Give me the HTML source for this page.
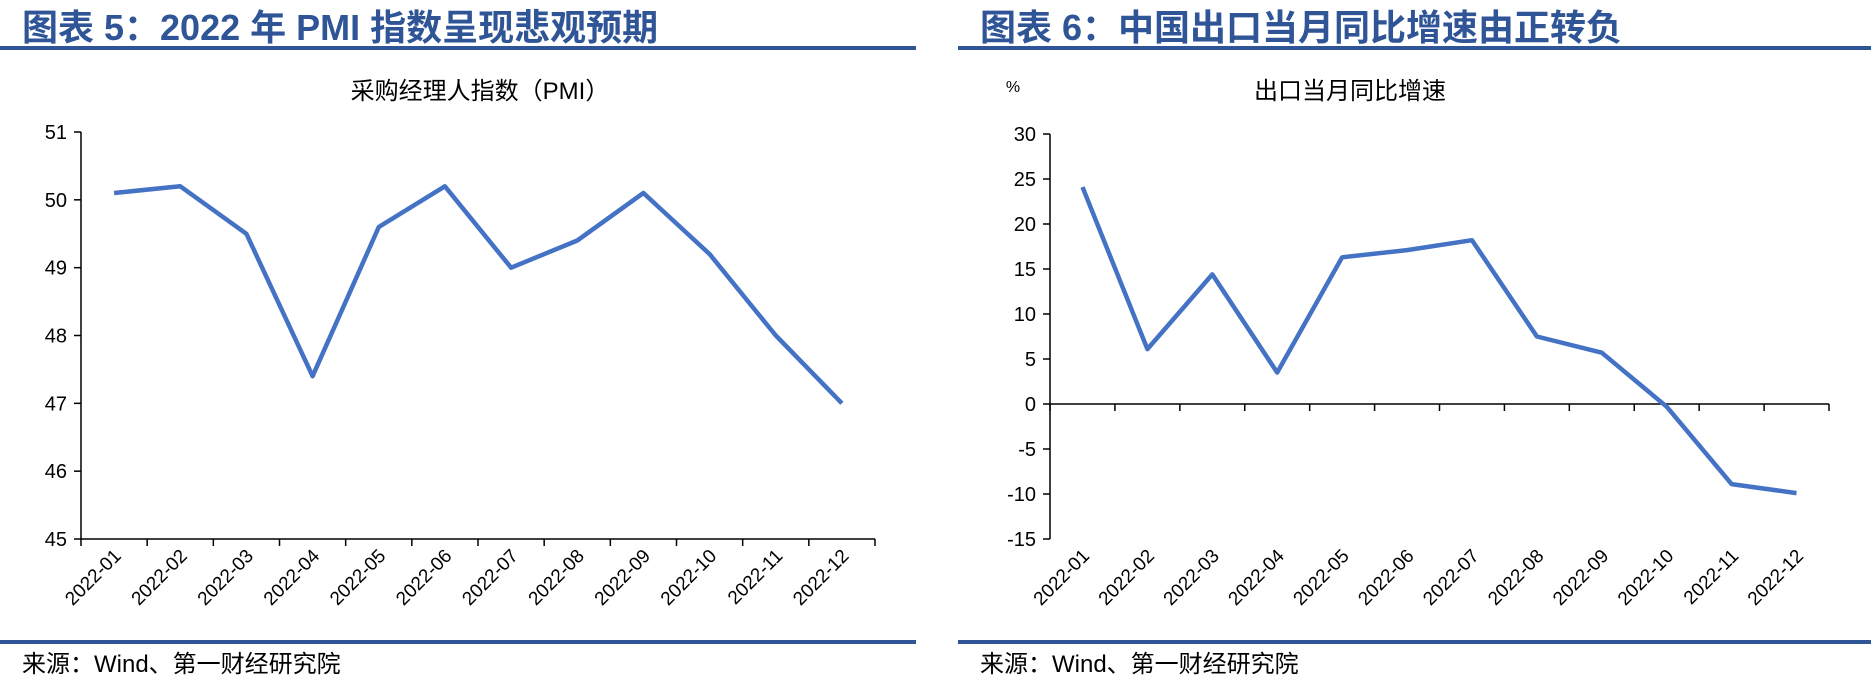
<!DOCTYPE html>
<html><head><meta charset="utf-8"><style>
html,body{margin:0;padding:0;background:#fff;}
svg{display:block;font-family:"Liberation Sans","Noto Sans CJK SC",sans-serif;}
</style></head><body>
<svg id="s" width="1871" height="683" viewBox="0 0 1871 683" xmlns="http://www.w3.org/2000/svg">
<g>
<text x="22" y="40" font-size="36" font-weight="bold" fill="#2F5597">图表 5：2022 年 PMI 指数呈现悲观预期</text>
<rect x="0" y="46" width="916" height="4" fill="#2F5597"/>
<rect x="0" y="640" width="916" height="4" fill="#2F5597"/>
<text x="22" y="672" font-size="24" fill="#000">来源：Wind、第一财经研究院</text>
</g>
<g>
<text x="980" y="40" font-size="36" font-weight="bold" fill="#2F5597">图表 6：中国出口当月同比增速由正转负</text>
<rect x="958" y="46" width="913" height="4" fill="#2F5597"/>
<rect x="958" y="640" width="913" height="4" fill="#2F5597"/>
<text x="980" y="672" font-size="24" fill="#000">来源：Wind、第一财经研究院</text>
</g>
<text x="480" y="99" font-size="24" text-anchor="middle">采购经理人指数（PMI）</text>
<text x="1350" y="99" font-size="24" text-anchor="middle">出口当月同比增速</text>
<text x="1013" y="92" font-size="16" text-anchor="middle">%</text>
<g id="c1"></g>
<g id="c2"></g>
</svg>
<script>
const categories = ["2022-01","2022-02","2022-03","2022-04","2022-05","2022-06","2022-07","2022-08","2022-09","2022-10","2022-11","2022-12"];
const pmiValues = [50.1,50.2,49.5,47.4,49.6,50.2,49.0,49.4,50.1,49.2,48.0,47.0];
const pmiTicks = [45,46,47,48,49,50,51];
const exportValues = [24.1,6.1,14.4,3.5,16.3,17.1,18.2,7.5,5.7,-0.3,-8.9,-9.9];
const exportTicks = [-15,-10,-5,0,5,10,15,20,25,30];
const NS="http://www.w3.org/2000/svg";
function mk(parent,tag,attrs){const e=document.createElementNS(NS,tag);for(const k in attrs)e.setAttribute(k,attrs[k]);parent.appendChild(e);return e;}
function draw(g,cfg){
  const {x0,x1,yTop,yBot,min,max,ticks,values,baseVal,pfx}=cfg;
  const ys=v=>yBot-(v-min)/(max-min)*(yBot-yTop);
  const bw=(x1-x0)/categories.length;
  const xs=i=>x0+bw*(i+0.5);
  const ya=mk(g,'line',{x1:x0,y1:yTop,x2:x0,y2:yBot,stroke:'#000','stroke-width':1.5});
  
  
  ticks.forEach(t=>{
    const tl=mk(g,'line',{x1:x0-7,y1:ys(t),x2:x0,y2:ys(t),stroke:'#000','stroke-width':1.5});
    
    
    const tx=mk(g,'text',{x:x0-14,y:ys(t)+7,'font-size':20,'text-anchor':'end'});
    tx.textContent=t;
    
    
  });
  const by=ys(baseVal);
  const xa=mk(g,'line',{x1:x0,y1:by,x2:x1,y2:by,stroke:'#000','stroke-width':1.5});
  
  
  for(let i=0;i<=categories.length;i++){
    const tk=mk(g,'line',{x1:x0+bw*i,y1:by,x2:x0+bw*i,y2:by+7,stroke:'#000','stroke-width':1.5});
    
    
  }
  categories.forEach((c,i)=>{
    const lx=xs(i)+8, ly=yBot+18;
    const tx=mk(g,'text',{x:lx,y:ly,'font-size':19,'text-anchor':'end',transform:`rotate(-45 ${lx} ${ly})`});
    tx.textContent=c;
    
    
  });
  const pts=values.map((v,i)=>xs(i).toFixed(1)+','+ys(v).toFixed(1)).join(' ');
  const pl=mk(g,'polyline',{points:pts,fill:'none',stroke:'#4472C4','stroke-width':4.5,'stroke-linejoin':'round'});
  
  
}
draw(document.getElementById('c1'),{x0:81,x1:875,yTop:132,yBot:539,min:45,max:51,ticks:pmiTicks,values:pmiValues,baseVal:45,pfx:'pmi'});
draw(document.getElementById('c2'),{x0:1050,x1:1829,yTop:134,yBot:539,min:-15,max:30,ticks:exportTicks,values:exportValues,baseVal:0,pfx:'export'});
</script>
</body></html>
